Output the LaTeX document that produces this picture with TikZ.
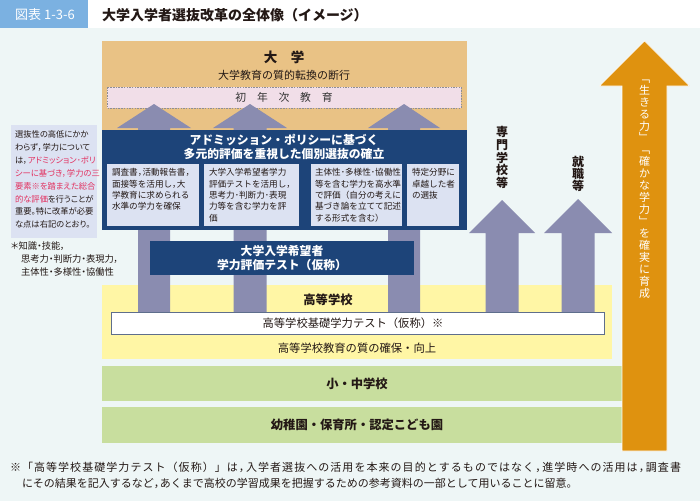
\documentclass[tikz,border=0pt]{standalone}
\usepackage{fontspec}
\setmainfont{Noto Sans CJK JP}
\newfontfamily\pfont[RawFeature=+palt]{Noto Sans CJK JP}
\definecolor{bgc}{HTML}{EEF6F6}
\definecolor{hdrblue}{HTML}{7BB1E1}
\definecolor{tanc}{HTML}{E9C285}
\definecolor{pinkc}{HTML}{F1DEE8}
\definecolor{dashgray}{HTML}{8E8E96}
\definecolor{arrgray}{HTML}{8A8CB0}
\definecolor{navy}{HTML}{1D4479}
\definecolor{lavc}{HTML}{DCE2F2}
\definecolor{yellowc}{HTML}{FFF6A5}
\definecolor{greenc}{HTML}{C8DE9E}
\definecolor{orangec}{HTML}{DF920F}
\definecolor{redc}{HTML}{E2305F}
\definecolor{txt}{HTML}{231815}
\definecolor{wbord}{HTML}{5E6E8C}
\newcommand{\nc}{\makebox[0.55em][l]{，}}
\newcommand{\BigUpArrow}[7][]{\path[#1] ({#2-#6},#7) -- ({#2-#6},#4) -- ({#2-#5},#4) -- (#2,#3) -- ({#2+#5},#4) -- ({#2+#6},#4) -- ({#2+#6},#7) -- cycle;}
\ExplSyntaxOn
\NewDocumentCommand \SpreadLine { m m }
 {
  \makebox[#1][s]{ \tl_map_inline:nn {#2} { ##1 \hfil } \unskip }
 }
\ExplSyntaxOff
\begin{document}
\begin{tikzpicture}[x=1pt,y=-1pt,
  every node/.style={inner sep=0pt,outer sep=0pt,text=txt},
  boxtext/.style={anchor=north west,align=left,font=\fontsize{8.6}{11.4}\selectfont},
  whitebold/.style={text=white,font=\bfseries\fontsize{11.8}{13.5}\selectfont,align=center},
  lbl/.style={font=\fontsize{11.3}{11.3}\selectfont},
  greenlbl/.style={font=\bfseries\fontsize{12.3}{12.3}\selectfont}]
\useasboundingbox (0,0) rectangle (700,501);
\fill[bgc] (0,0) rectangle (700,501);
% header
\fill[white] (0,0) rectangle (700,28);
\fill[hdrblue] (0,0) rectangle (88,28);
\node[text=white,font=\fontsize{13}{13}\selectfont] (figlabel) at (45,15) {図表 1-3-6};
\node[anchor=west,font=\bfseries\fontsize{14}{14}\selectfont] (title) at (102,15) {大学入学者選抜改革の全体像（イメージ）};
% left note
\fill[lavc] (11,125) rectangle (97,238);
\node[anchor=north west,align=left,font=\pfont\fontsize{8.3}{12.85}\selectfont] (leftnote) at (15,130.8)
 {選抜性の高低にかか\\わらず\nc 学力について\\は\nc\textcolor{redc}{アドミッション･ポリ}\\\textcolor{redc}{シーに基づき\nc 学力の三}\\\textcolor{redc}{要素※を踏まえた総合}\\\textcolor{redc}{的な評価}を行うことが\\重要。特に改革が必要\\な点は右記のとおり。};
\node[anchor=north west,align=left,font=\pfont\fontsize{9.3}{13}\selectfont] (footast) at (11,241.5)
 {＊知識・技能\nc\\\hspace{10pt}思考力・判断力・表現力\nc\\\hspace{10pt}主体性・多様性・協働性};
% background bands
\fill[yellowc] (102,285) rectangle (612,359);
\fill[greenc] (102,366) rectangle (622,401);
\fill[greenc] (102,407) rectangle (622,443);
% university
\fill[tanc] (102,41) rectangle (467,130);
\path[fill=pinkc,draw=dashgray,line width=0.7pt,dash pattern=on 1.5pt off 1.2pt] (107,87) rectangle (461,108);
% gray arrows
\BigUpArrow[fill=arrgray]{154}{104}{128}{37}{16}{320}
\BigUpArrow[fill=arrgray]{250}{104}{128}{37}{16.5}{320}
\BigUpArrow[fill=arrgray]{404}{104}{128}{36}{16}{320}
\BigUpArrow[fill=arrgray]{502}{200}{233}{33}{16.5}{320}
\BigUpArrow[fill=arrgray]{578}{199}{233}{34}{16.5}{320}
% admission policy box
\fill[navy] (102,130) rectangle (467,230);
\fill[lavc] (107,164) rectangle (199,226);
\fill[lavc] (204,164) rectangle (299,226);
\fill[lavc] (311,164) rectangle (402,226);
\fill[lavc] (407,164) rectangle (459,226);
% test box
\fill[navy] (150,241) rectangle (414,275);
% white box
\path[fill=white,draw=wbord,line width=0.8pt] (111,312) rectangle (604,334);
% orange arrow
\BigUpArrow[fill=orangec,draw=white,line width=0.6pt]{644.5}{41}{86}{45}{22.5}{451}
% texts
\node[font=\bfseries\fontsize{13.5}{13.5}\selectfont] (univ) at (284,57) {大　学};
\node[font=\fontsize{11}{11}\selectfont] (univsub) at (284,75) {大学教育の質的転換の断行};
\node[font=\fontsize{10.8}{10.8}\selectfont,text=black!80] (firstyear) at (284,97.5) {初　年　次　教　育};
\node[whitebold] (aptitle) at (284,147) {アドミッション・ポリシーに基づく\\多元的評価を重視した個別選抜の確立};
\node[boxtext] (b1) at (112,168.5) {調査書\nc 活動報告書\nc\\面接等を活用し\nc 大\\学教育に求められる\\水準の学力を確保};
\node[boxtext] (b2) at (209,168.5) {大学入学希望者学力\\評価テストを活用し\nc\\思考力･判断力･表現\\力等を含む学力を評\\価};
\node[boxtext] (b3) at (315,168.5) {主体性･多様性･協働性\\等を含む学力を高水準\\で評価（自分の考えに\\基づき論を立てて記述\\する形式を含む）};
\node[boxtext] (b4) at (412,168.5) {特定分野に\\卓越した者\\の選抜};
\node[whitebold] (testbox) at (282,258) {大学入学希望者\\学力評価テスト（仮称）};
\node[align=center,font=\bfseries\fontsize{12}{12.7}\selectfont] (senmon) at (502,157.5) {専\\門\\学\\校\\等};
\node[align=center,font=\bfseries\fontsize{12}{12.2}\selectfont] (shushoku) at (578,174) {就\\職\\等};
\node[align=center,text=white,font=\fontsize{11}{11.95}\selectfont] (ikiru) at (644.5,189)
 {﹁\\生\\き\\る\\力\\﹂\\﹁\\確\\か\\な\\学\\力\\﹂\\を\\確\\実\\に\\育\\成};
\node[font=\bfseries\fontsize{12.3}{12.3}\selectfont] (koko) at (328,300) {高等学校};
\node[lbl] (kisotest) at (353,323) {高等学校基礎学力テスト（仮称）※};
\node[lbl] (kokoq) at (357,348) {高等学校教育の質の確保・向上};
\node[greenlbl] (shochu) at (357,383.5) {小・中学校};
\node[greenlbl] (yochien) at (357,425) {幼稚園・保育所・認定こども園};
\node[anchor=west,font=\fontsize{11}{11}\selectfont] (fn1) at (10,467)
 {\SpreadLine{671pt}{※「高等学校基礎学力テスト（仮称）」は\nc 入学者選抜への活用を本来の目的とするものではなく\nc 進学時への活用は\nc 調査書}};
\node[anchor=west,font=\fontsize{11}{11}\selectfont] (fn2) at (22,483)
 {にその結果を記入するなど\nc あくまで高校の学習成果を把握するための参考資料の一部として用いることに留意。};
\end{tikzpicture}
\end{document}
